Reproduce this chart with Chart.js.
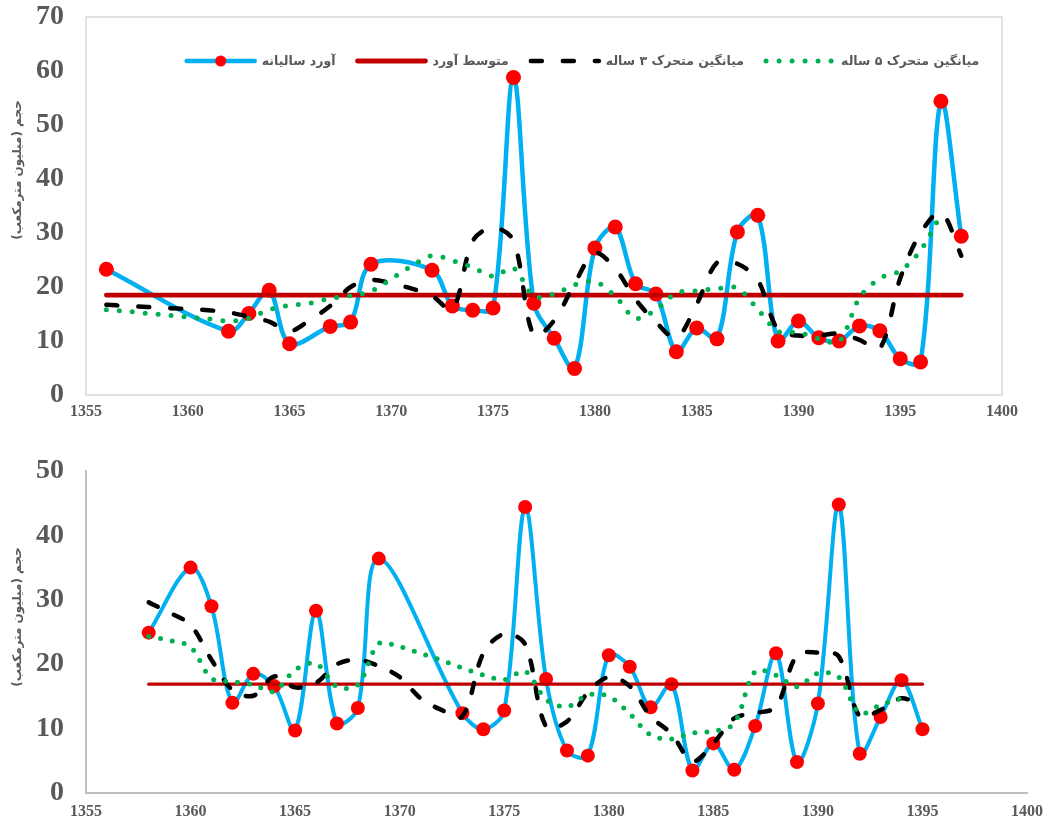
<!DOCTYPE html>
<html><head><meta charset="utf-8">
<script src="https://cdn.jsdelivr.net/npm/chart.js@4.4.1/dist/chart.umd.min.js"></script>
<style>
html,body{margin:0;padding:0;background:#fff;width:1045px;height:822px;overflow:hidden}
canvas{display:block;position:absolute;left:0}
#c1{top:0}#c2{top:420px}
</style></head><body>
<canvas id="c1" width="1045" height="420"></canvas>
<canvas id="c2" width="1045" height="402"></canvas>
<script>
// ---------- labels ----------
const yAxisTitle = 'حجم (میلیون مترمکعب)';
const seriesNames = ['آورد سالیانه', 'متوسط آورد', 'میانگین متحرک ۳ ساله', 'میانگین متحرک ۵ ساله'];
const xTickValues = [1355, 1360, 1365, 1370, 1375, 1380, 1385, 1390, 1395, 1400];
const yTicksTop = [0, 10, 20, 30, 40, 50, 60, 70];
const yTicksBottom = [0, 10, 20, 30, 40, 50];

// ---------- top chart data ----------
const yearsTop = [1356,1362,1363,1364,1365,1367,1368,1369,1372,1373,1374,1375,1376,1377,1378,1379,
  1380,1381,1382,1383,1384,1385,1386,1387,1388,1389,1390,1391,1392,1393,1394,1395,1396,1397,1398];
const flowTop = [23.3,11.8,15.1,19.4,9.5,12.7,13.5,24.2,23.1,16.5,15.7,16.1,58.8,17.0,10.5,4.9,
  27.2,31.1,20.6,18.7,8.0,12.4,10.4,30.2,33.3,10.0,13.7,10.6,10.0,12.8,11.9,6.7,6.1,54.4,29.4];
const meanTop = 18.5;
const meanTopYears = [1356, 1398];
const ma3TopYears = [1356,1357,1358,1359,1360,1361,1362,1363,1364,1365,1366,1367,1368,1369,1370,1371,
  1372,1373,1374,1375,1376,1377,1378,1379,1380,1381,1382,1383,1384,1385,1386,1387,1388,1389,1390,1391,
  1392,1393,1394,1395,1396,1397,1398];
const ma3Top = [16.7,16.5,16.3,16.1,15.9,15.7,15.3,14.5,13.6,11.8,13.9,16.5,20.0,21.3,20.7,19.7,
  18.4,15.8,28.5,31.0,28.6,11.0,13.8,20.6,26.3,23.4,17.7,13.5,10.6,16.8,24.5,24.3,21.3,12.0,11.0,11.0,
  11.4,10.2,8.6,21.6,30.0,33.8,25.8];
const ma5TopYears = [1356,1357,1358,1359,1360,1361,1362,1363,1364,1365,1366,1367,1368,1369,1370,1371,
  1372,1373,1374,1375,1376,1377,1378,1379,1380,1381,1382,1383,1384,1385,1386,1387,1388,1389,1390,1391,
  1392,1393,1394,1395,1396,1397];
const ma5Top = [15.8,15.5,15.1,14.8,14.4,14.1,13.7,14.2,15.8,16.6,17.0,17.9,18.4,19.2,21.5,23.9,
  25.8,24.9,23.6,22.0,23.5,18.3,18.7,20.4,21.0,18.3,14.2,15.8,18.9,19.3,19.7,19.8,15.9,11.8,11.6,10.4,
  9.9,18.0,21.6,23.0,26.8,33.4];

// ---------- bottom chart data ----------
const yearsBottom = [1358,1360,1361,1362,1363,1364,1365,1366,1367,1368,1369,1373,1374,1375,1376,1377,
  1378,1379,1380,1381,1382,1383,1384,1385,1386,1387,1388,1389,1390,1391,1392,1393,1394,1395];
const flowBottom = [24.9,35.0,29.0,14.0,18.5,16.6,9.7,28.3,10.8,13.2,36.4,12.4,9.9,12.8,44.4,17.7,
  6.6,5.8,21.4,19.6,13.3,16.9,3.5,7.7,3.6,10.4,21.7,4.8,13.9,44.8,6.1,11.8,17.5,9.9];
const meanBottom = 16.9;
const meanBottomYears = [1358, 1395];
const ma3BottomYears = [1358,1359,1360,1361,1362,1363,1364,1365,1366,1367,1368,1369,1370,1371,1372,1373,
  1374,1375,1376,1377,1378,1379,1380,1381,1382,1383,1384,1385,1386,1387,1388,1389,1390,1391,1392,1393,1394,1395];
const ma3Bottom = [29.6,28.0,26.1,20.7,16.0,15.1,18.1,16.4,17.1,20.0,20.7,19.7,18.0,14.7,12.9,11.9,
  21.7,24.7,23.1,10.3,11.1,15.6,18.0,16.6,11.9,9.2,4.9,7.7,11.6,12.4,13.4,21.4,21.8,21.2,11.9,12.9,14.7,13.5];
const ma5BottomYears = [1358,1359,1360,1361,1362,1363,1364,1365,1366,1367,1368,1369,1370,1371,1372,1373,
  1374,1375,1376,1377,1378,1379,1380,1381,1382,1383,1384,1385,1386,1387,1388,1389,1390,1391,1392,1393,1394];
const ma5Bottom = [24.3,23.7,22.7,17.8,17.3,16.8,15.8,19.1,20.1,16.5,16.8,23.2,22.7,21.7,20.6,19.4,
  18.3,17.6,18.9,14.5,13.4,15.2,15.0,12.3,9.0,8.4,9.3,9.6,10.8,18.9,18.3,16.5,18.6,18.0,12.4,13.7,14.7];

// ---------- helpers ----------
const pts = (xs, ys) => xs.map((x, i) => ({x: x, y: ys[i]}));
const flat = (xs, v) => xs.map(x => ({x: x, y: v}));
const GRAY = '#595959';
const PFONT = '"DejaVu Sans", "Noto Sans", sans-serif';

const framePlugin = {
  id: 'frame',
  beforeDatasetsDraw(chart, args, opts) {
    if (!opts || !opts.box) return;
    const a = chart.chartArea, c = chart.ctx;
    c.save(); c.strokeStyle = '#D9D9D9'; c.lineWidth = 1.5;
    c.strokeRect(a.left, a.top, a.right - a.left, a.bottom - a.top);
    c.restore();
  }
};
const yTitlePlugin = {
  id: 'ytitle',
  afterDraw(chart, args, opts) {
    if (!opts || !opts.text) return;
    const c = chart.ctx;
    c.save();
    c.translate(opts.x, opts.y);
    c.rotate(-Math.PI / 2);
    c.font = 'bold 12px ' + PFONT;
    c.fillStyle = GRAY; c.textAlign = 'center'; c.textBaseline = 'middle';
    c.fillText(opts.text, 0, 0);
    c.restore();
  }
};
const legendPlugin = {
  id: 'lineLegend',
  afterDraw(chart, args, opts) {
    if (!opts || !opts.show) return;
    const c = chart.ctx, ds = chart.data.datasets;
    const y = opts.y;
    c.save();
    c.font = 'bold 12.5px ' + PFONT;
    c.textBaseline = 'middle'; c.textAlign = 'left';
    const widths = ds.map(d => c.measureText(d.label).width);
    const total = widths.reduce((s, w) => s + opts.swatchW + opts.gap + w, 0) + opts.spacing * (ds.length - 1);
    let sx = opts.cx - total / 2;
    ds.forEach((d, i) => {
      c.save();
      c.strokeStyle = d.borderColor; c.lineWidth = d.borderWidth;
      c.lineCap = d.borderCapStyle || 'butt';
      c.setLineDash(d.borderDash || []);
      c.beginPath(); c.moveTo(sx + 2, y); c.lineTo(sx + opts.swatchW - 2, y); c.stroke();
      c.setLineDash([]);
      if (d.pointRadius > 0) {
        c.fillStyle = d.pointBackgroundColor;
        c.beginPath(); c.arc(sx + opts.swatchW / 2, y, 5.5, 0, Math.PI * 2); c.fill();
      }
      c.restore();
      c.fillStyle = GRAY;
      c.fillText(d.label, sx + opts.swatchW + opts.gap, y + 1);
      sx += opts.swatchW + opts.gap + widths[i] + opts.spacing;
    });
    c.restore();
  }
};

function makeChart(id, cfg) {
  return new Chart(document.getElementById(id), {
    type: 'line',
    data: {
      datasets: [
        {label: seriesNames[0], data: pts(cfg.years, cfg.flow), borderColor: '#00B0F0', borderWidth: cfg.lw,
         borderCapStyle: 'round', borderJoinStyle: 'round', tension: 0.33,
         pointRadius: cfg.pr, pointHoverRadius: cfg.pr, pointBackgroundColor: '#FF0000', pointBorderWidth: 0,
         pointBorderColor: '#FF0000', order: 4},
        {label: seriesNames[1], data: flat(cfg.meanYears, cfg.mean), borderColor: '#C00000', borderWidth: cfg.mlw,
         borderCapStyle: 'round', pointRadius: 0, order: 3},
        {label: seriesNames[2], data: pts(cfg.ma3Years, cfg.ma3), borderColor: '#000000', borderWidth: 4.5,
         borderCapStyle: 'round', borderDash: cfg.dash, tension: 0.33, pointRadius: 0, order: 2},
        {label: seriesNames[3], data: pts(cfg.ma5Years, cfg.ma5), borderColor: '#00B050', borderWidth: 5,
         borderCapStyle: 'round', borderDash: cfg.dots, tension: 0.33, pointRadius: 0, order: 1}
      ]
    },
    options: {
      responsive: false, animation: false, devicePixelRatio: 1,
      layout: {padding: {left: 0, right: cfg.padRight, top: cfg.padTop, bottom: 0}},
      plugins: {
        legend: {display: false}, tooltip: {enabled: false},
        frame: {box: cfg.box},
        ytitle: {text: yAxisTitle, x: 18, y: cfg.titleY},
        lineLegend: cfg.legend
      },
      scales: {
        x: {
          type: 'linear', min: 1355, max: 1400,
          grid: {display: false, drawTicks: false},
          border: {display: !cfg.box, color: '#BFBFBF', width: 2},
          afterBuildTicks: s => { s.ticks = xTickValues.map(v => ({value: v})); },
          afterFit: s => { s.height = cfg.xh; s.paddingLeft = 0; s.paddingRight = 0; },
          ticks: {color: GRAY, font: {family: '"Liberation Serif", "Times New Roman", serif', size: 16, weight: 'bold'},
                  padding: cfg.xpad, maxRotation: 0, autoSkip: false, callback: v => String(v)}
        },
        y: {
          min: 0, max: cfg.ymax,
          grid: {display: false, drawTicks: false},
          border: {display: !cfg.box, color: '#BFBFBF', width: 2},
          afterBuildTicks: s => { s.ticks = cfg.yticks.map(v => ({value: v})); },
          afterFit: s => { s.width = 86; s.paddingTop = 0; s.paddingBottom = 0; },
          ticks: {color: GRAY, font: {family: '"Liberation Serif", "Times New Roman", serif', size: 28, weight: 'bold'},
                  padding: 22, callback: v => String(v)}
        }
      }
    },
    plugins: [framePlugin, yTitlePlugin, legendPlugin]
  });
}

makeChart('c1', {
  years: yearsTop, flow: flowTop, mean: meanTop, meanYears: meanTopYears,
  ma3Years: ma3TopYears, ma3: ma3Top, ma5Years: ma5TopYears, ma5: ma5Top,
  lw: 4.5, mlw: 4.8, pr: 7.5, dash: [11, 21], dots: [0, 13],
  padRight: 43, padTop: 17, xh: 25, xpad: 7, ymax: 70, yticks: yTicksTop, box: true, titleY: 170,
  legend: {show: true, y: 61, cx: 582, swatchW: 72, gap: 5, spacing: 20}
});
makeChart('c2', {
  years: yearsBottom, flow: flowBottom, mean: meanBottom, meanYears: meanBottomYears,
  ma3Years: ma3BottomYears, ma3: ma3Bottom, ma5Years: ma5BottomYears, ma5: ma5Bottom,
  lw: 4, mlw: 3.3, pr: 7, dash: [10, 18], dots: [0, 12],
  padRight: 18, padTop: 51, xh: 29, xpad: 9, ymax: 50, yticks: yTicksBottom, box: false, titleY: 197,
  legend: {show: false}
});
</script>
</body></html>
